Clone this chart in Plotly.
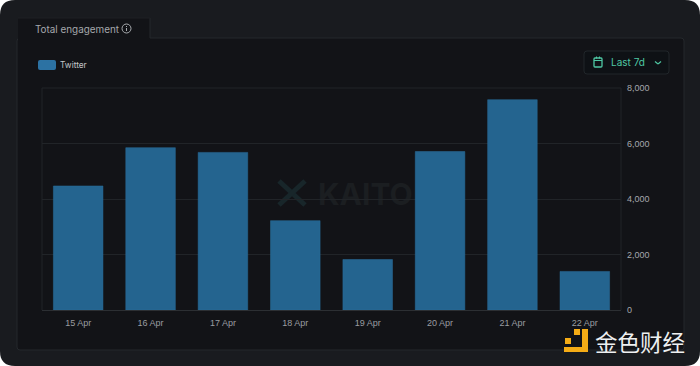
import plotly.graph_objects as go

W, H = 700, 366
L, R, T, B = 42, 621, 88, 310

categories = ["15 Apr", "16 Apr", "17 Apr", "18 Apr", "19 Apr", "20 Apr", "21 Apr", "22 Apr"]
twitter_values = [4470, 5850, 5680, 3220, 1820, 5710, 7580, 1390]
y_ticks = [0, 2000, 4000, 6000, 8000]
y_tick_labels = ["0", "2,000", "4,000", "6,000", "8,000"]


def px(x):
    return (x - L) / (R - L)


def py(y):
    return (B - y) / (B - T)


def rrect(x0, y0, x1, y1, r, fill, line=None, lw=1):
    a, b, c, d = px(x0), py(y0), px(x1), py(y1)
    rx, ry = r / (R - L), r / (B - T)
    path = (f"M {a + rx} {b} L {c - rx} {b} Q {c} {b} {c} {b - ry} L {c} {d + ry} "
            f"Q {c} {d} {c - rx} {d} L {a + rx} {d} Q {a} {d} {a} {d + ry} "
            f"L {a} {b - ry} Q {a} {b} {a + rx} {b} Z")
    return dict(type="path", xref="paper", yref="paper", path=path, fillcolor=fill,
                line=dict(color=line or fill, width=lw if line else 0), layer="below")


def seg(x0, y0, x1, y1, color, w=1, layer="above"):
    return dict(type="line", xref="paper", yref="paper", x0=px(x0), y0=py(y0), x1=px(x1), y1=py(y1),
                line=dict(color=color, width=w), layer=layer)


def note(x, y, text, size, color, family="Liberation Sans", anchor="left", **kw):
    return dict(xref="paper", yref="paper", x=px(x), y=py(y), text=text, showarrow=False,
                xanchor=anchor, yanchor="middle", borderpad=0, borderwidth=0,
                font=dict(size=size, color=color, family=family), **kw)


shapes = [
    rrect(0, 0, 700, 366, 15, "#191b1f"),
    rrect(17, 38, 684, 350, 3, "#121317", "#25282c"),
    dict(type="rect", xref="paper", yref="paper", x0=px(18), x1=px(150), y0=py(39), y1=py(18),
         fillcolor="#121317", line=dict(width=0), layer="below"),
    seg(150, 18, 150, 38, "#25282c", 1, "below"),
    seg(18, 18, 150, 18, "#1e2024", 1, "below"),
    seg(42, 88, 621, 88, "#212428", 1, "below"),
    seg(42, 88, 42, 310, "#212428", 1, "below"),
    seg(621, 88, 621, 310, "#212428", 1, "below"),
    # legend swatch
    rrect(38, 60, 56, 70, 2, "#2c72a3"),
    # date selector
    rrect(584, 51, 669, 74, 3, "#0e1115", "#21262a"),
    rrect(594, 58, 602, 67, 1, "#0e1115", "#4fc8a4", 1.3),
    seg(594, 60.5, 602, 60.5, "#4fc8a4", 1),
    seg(596.5, 56.5, 596.5, 58.5, "#4fc8a4", 1),
    seg(599.5, 56.5, 599.5, 58.5, "#4fc8a4", 1),
    seg(655, 61.5, 658, 64, "#4fc8a4", 1.1),
    seg(658, 64, 661, 61.5, "#4fc8a4", 1.1),
    # info icon
    dict(type="circle", xref="paper", yref="paper", x0=px(122), x1=px(131), y0=py(33), y1=py(24),
         line=dict(color="#a8abaf", width=1), fillcolor="rgba(0,0,0,0)"),
    seg(126.5, 28, 126.5, 31, "#a8abaf", 1),
    seg(126.5, 26, 126.5, 27, "#a8abaf", 1),
    # Kaito watermark mark
    seg(279, 181, 305, 205, "#18262a", 5, "below"),
    seg(305, 181, 279, 205, "#18262a", 5, "below"),
    # Kaito watermark word, kept under the bars
    dict(type="rect", xref="paper", yref="paper", x0=px(315), x1=px(440), y0=py(206), y1=py(180),
         fillcolor="rgba(0,0,0,0)", line=dict(width=0), layer="below",
         label=dict(text="<b>KAITO</b>", textposition="middle left", padding=0,
                    font=dict(size=30, color="#1b1e21", family="Inter"))),
    # Jinse logo
    dict(type="rect", xref="paper", yref="paper", x0=px(574), x1=px(580), y0=py(335), y1=py(329),
         fillcolor="#f5ac16", line=dict(width=0)),
    dict(type="rect", xref="paper", yref="paper", x0=px(565), x1=px(571), y0=py(344), y1=py(338),
         fillcolor="#f5ac16", line=dict(width=0)),
    dict(type="path", xref="paper", yref="paper",
         path=f"M {px(582)} {py(329)} L {px(588)} {py(329)} L {px(588)} {py(352)} L {px(564)} {py(352)} "
              f"L {px(564)} {py(347)} L {px(582)} {py(347)} Z",
         fillcolor="#f5ac16", line=dict(width=0)),
]

annotations = [
    note(34.5, 29, "Total engagement", 9.9, "#a5a8ac", "Inter"),
    note(60, 65, "Twitter", 8.3, "#c4c6c9", "Inter"),
    note(611, 62.5, "Last 7d", 10, "#4fc8a4", "Inter"),
    note(595, 341, "金色财经", 22.5, "#eef0f1", "Noto Sans CJK SC"),
]

fig = go.Figure(
    go.Bar(x=categories, y=twitter_values, name="Twitter", marker=dict(color="#24648f", line=dict(color="#2b6f9c", width=0.5)),
           width=0.685, showlegend=False)
)
fig.update_layout(
    width=W, height=H, autosize=False,
    margin=dict(l=L, r=W - R, t=T, b=H - B, pad=0),
    paper_bgcolor="#ffffff", plot_bgcolor="rgba(0,0,0,0)",
    shapes=shapes, annotations=annotations,
    xaxis=dict(type="category", range=[-0.5, 7.5], showgrid=False, zeroline=False, showline=True,
               linecolor="#2c2f33", linewidth=1, ticks="", ticklabelstandoff=4,
               tickfont=dict(size=9, color="#9a9da1", family="Liberation Sans")),
    yaxis=dict(side="right", range=[0, 8000], tickvals=y_ticks, ticktext=y_tick_labels,
               showgrid=True, gridcolor="#212428", gridwidth=1, zeroline=False, showline=False,
               ticks="", ticklabelstandoff=5, tickfont=dict(size=9, color="#a5a8ac", family="Liberation Sans")),
)
fig.write_html("out.html", config=dict(displayModeBar=False),
               post_script="document.body.style.margin='0';document.documentElement.style.overflow='hidden';")
